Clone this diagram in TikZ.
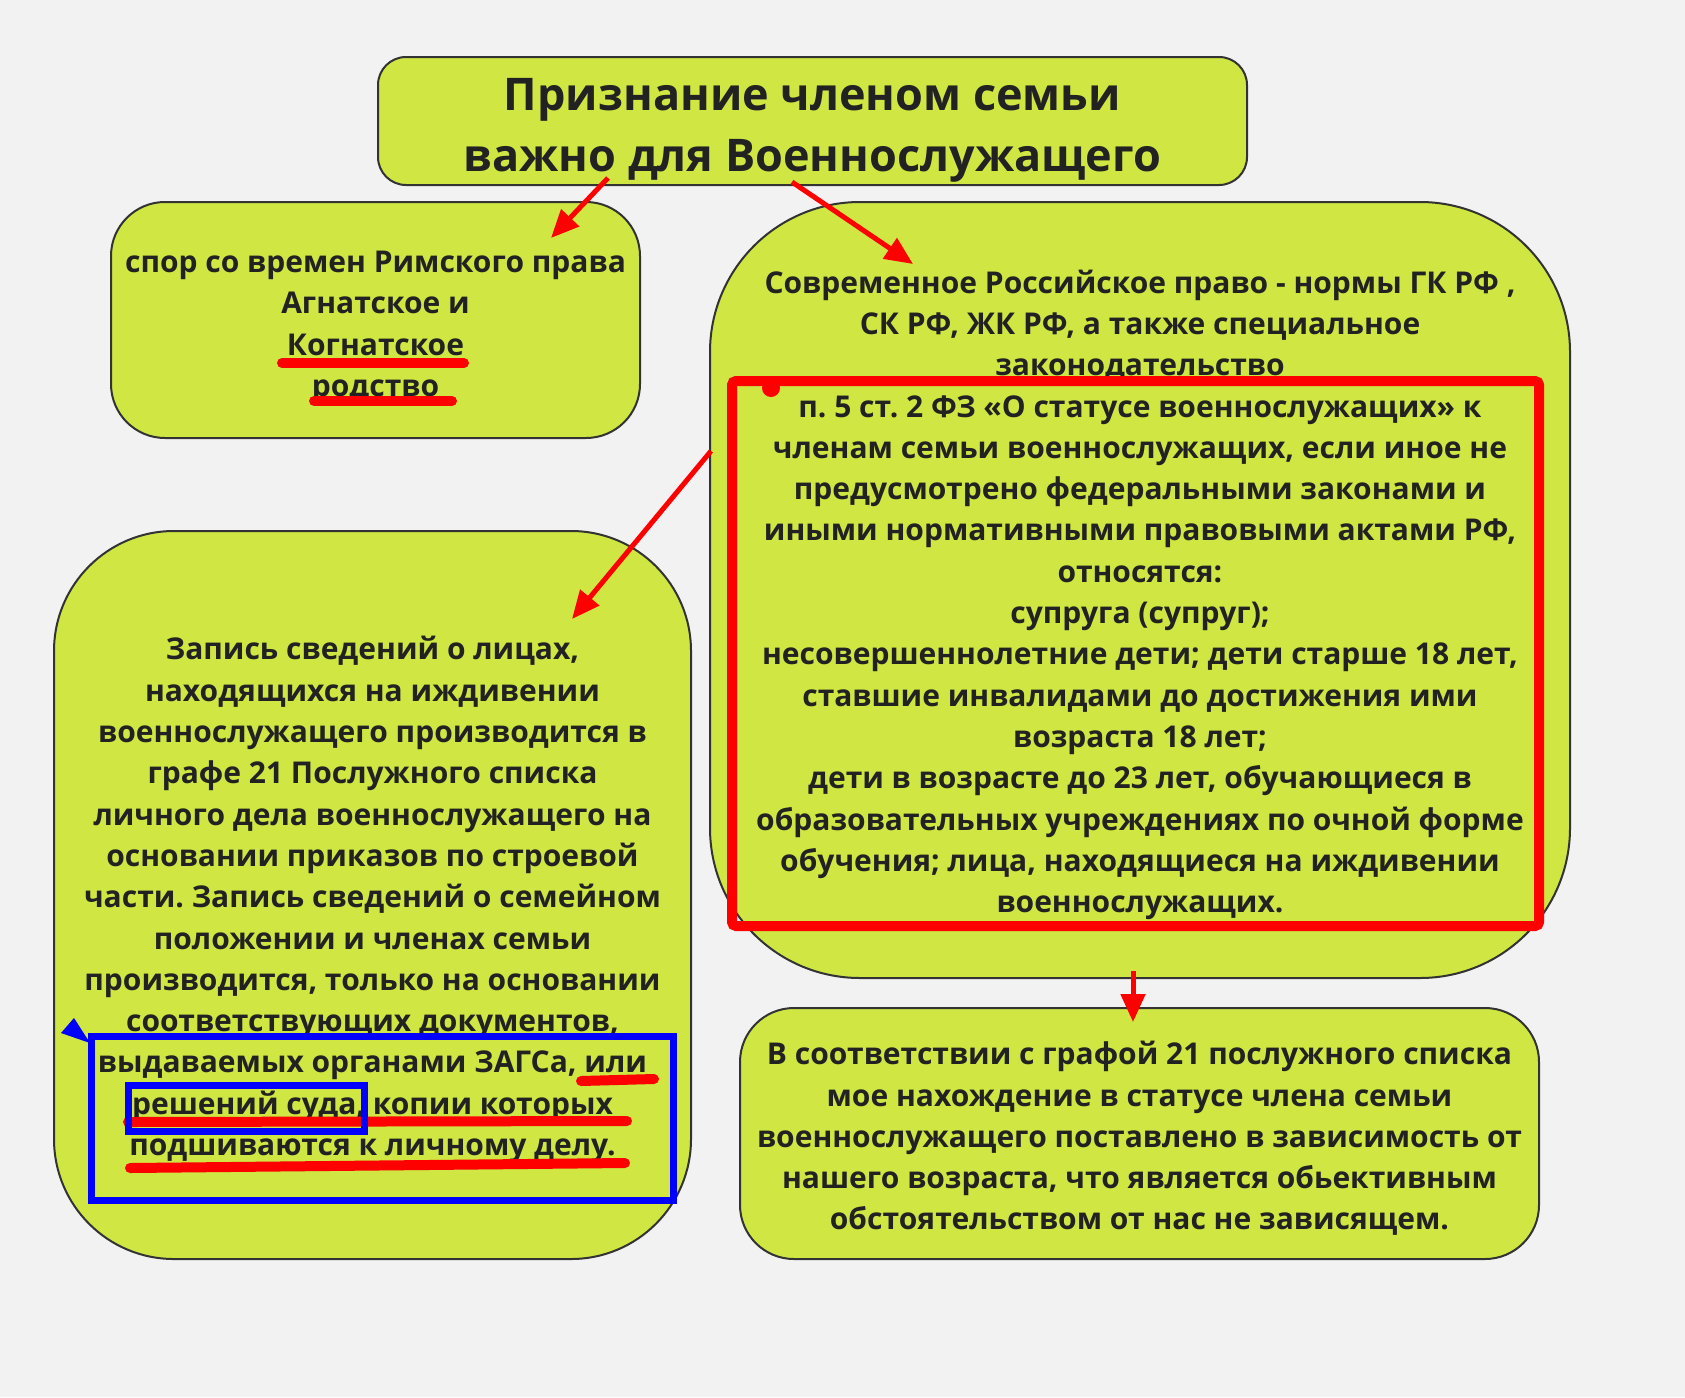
\documentclass[tikz,border=0pt]{standalone}
\usepackage{fontspec}
\setmainfont{Open Sans}
\usetikzlibrary{arrows.meta}

\definecolor{bgcol}{HTML}{F2F2F2}
\definecolor{boxcol}{HTML}{CFE643}
\definecolor{edgecol}{HTML}{333333}
\definecolor{textcol}{HTML}{222222}

\tikzset{
  box/.style={draw=edgecol, line width=1pt, fill=boxcol, align=center,
    inner sep=0pt, text=textcol, font=\bfseries\fontsize{15}{20.65}\selectfont},
  redarrow/.style={draw=red, line width=2.5pt, -{Triangle[length=14pt,width=12pt]}},
  redline/.style={red, line width=5pt, line cap=round}
}
\frenchspacing

\begin{document}
\begin{tikzpicture}[x=0.5pt, y=-0.5pt]
        % Background
        \fill[bgcol] (0,0) rectangle (1685,1397);
        \useasboundingbox (0,0) rectangle (1685,1397);

        % Draw the boxes
        \node[box, minimum width=434.5pt, minimum height=64pt, rounded corners=14pt,
          font=\bfseries\fontsize{22.5}{30.5}\selectfont] (title) at (812.5,121)
          {\rule{0pt}{25.7pt}Признание членом семьи\\важно для Военнослужащего};

        \node[box, minimum width=264.5pt, minimum height=118pt, rounded corners=27pt] (spor) at (375.5,320)
          {\rule{0pt}{18.2pt}спор со времен Римского права\\Агнатское и\\Когнатское\\родство};

        \node[box, minimum width=430pt, minimum height=388pt, rounded corners=75pt] (modern) at (1140,590)
          {\rule{0pt}{16.5pt}Современное Российское право - нормы ГК РФ ,\\СК РФ, ЖК РФ, а также специальное\\законодательство\\
           п. 5 ст. 2 ФЗ «О статусе военнослужащих» к\\членам семьи военнослужащих, если иное не\\
           предусмотрено федеральными законами и\\иными нормативными правовыми актами РФ,\\относятся:\\
           супруга (супруг);\\несовершеннолетние дети; дети старше 18 лет,\\ставшие инвалидами до достижения ими\\
           возраста 18 лет;\\дети в возрасте до 23 лет, обучающиеся в\\образовательных учреждениях по очной форме\\
           обучения; лица, находящиеся на иждивении\\военнослужащих.};

        \node[box, minimum width=318.5pt, minimum height=364pt, rounded corners=60pt] (zapis) at (372.5,895)
          {\rule{0pt}{16.3pt}Запись сведений о лицах,\\находящихся на иждивении\\военнослужащего производится в\\
           графе 21 Послужного списка\\личного дела военнослужащего на\\основании приказов по строевой\\
           части. Запись сведений о семейном\\положении и членах семьи\\производится, только на основании\\
           соответствующих документов,\\выдаваемых органами ЗАГСа, или\\решений суда, копии которых\\
           подшиваются к личному делу.};

        \node[box, minimum width=399.5pt, minimum height=125.5pt, rounded corners=27pt] (graf) at (1139.5,1133.5)
          {\rule{0pt}{16.8pt}В соответствии с графой 21 послужного списка\\мое нахождение в статусе члена семьи\\
           военнослужащего поставлено в зависимость от\\нашего возраста, что является обьективным\\
           обстоятельством от нас не зависящем.};

        % Draw the arrows
        \draw[redarrow] ([shift={(-204.5,-8)}]title.south) -- ([shift={(-90,37)}]spor.north east);
        \draw[redarrow] ([shift={(-20.5,-4)}]title.south) -- ([shift={(-227,63)}]modern.north);
        \draw[redarrow] ([shift={(2,-139)}]modern.west) -- ([shift={(199.5,89)}]zapis.north);
        \draw[redarrow] ([shift={(-7,-8)}]modern.south) -- ([shift={(-6.5,15)}]graf.north);

        % Red frame and underlines
        \draw[red, line width=5pt, rounded corners=2pt] (732,381) rectangle (1539,926);
        \fill[red] (771,388) circle (4.5pt);
        \draw[redline] (282,363) -- (464,363);
        \draw[redline] (314,401) -- (452,401);
        \draw[redline] (581,1081) -- (654,1079);
        \draw[redline] (128,1122) -- (627,1121);
        \draw[redline] (130,1168) -- (625,1163);

        % Blue frames
        \draw[blue, line width=3.5pt] (91,1036) rectangle (673,1200);
        \draw[blue, line width=3.5pt] (128,1085) rectangle (364,1131);
        \fill[blue] (61,1033) -- (74,1018) -- (90,1043) -- cycle;
    \end{tikzpicture}
\end{document}
